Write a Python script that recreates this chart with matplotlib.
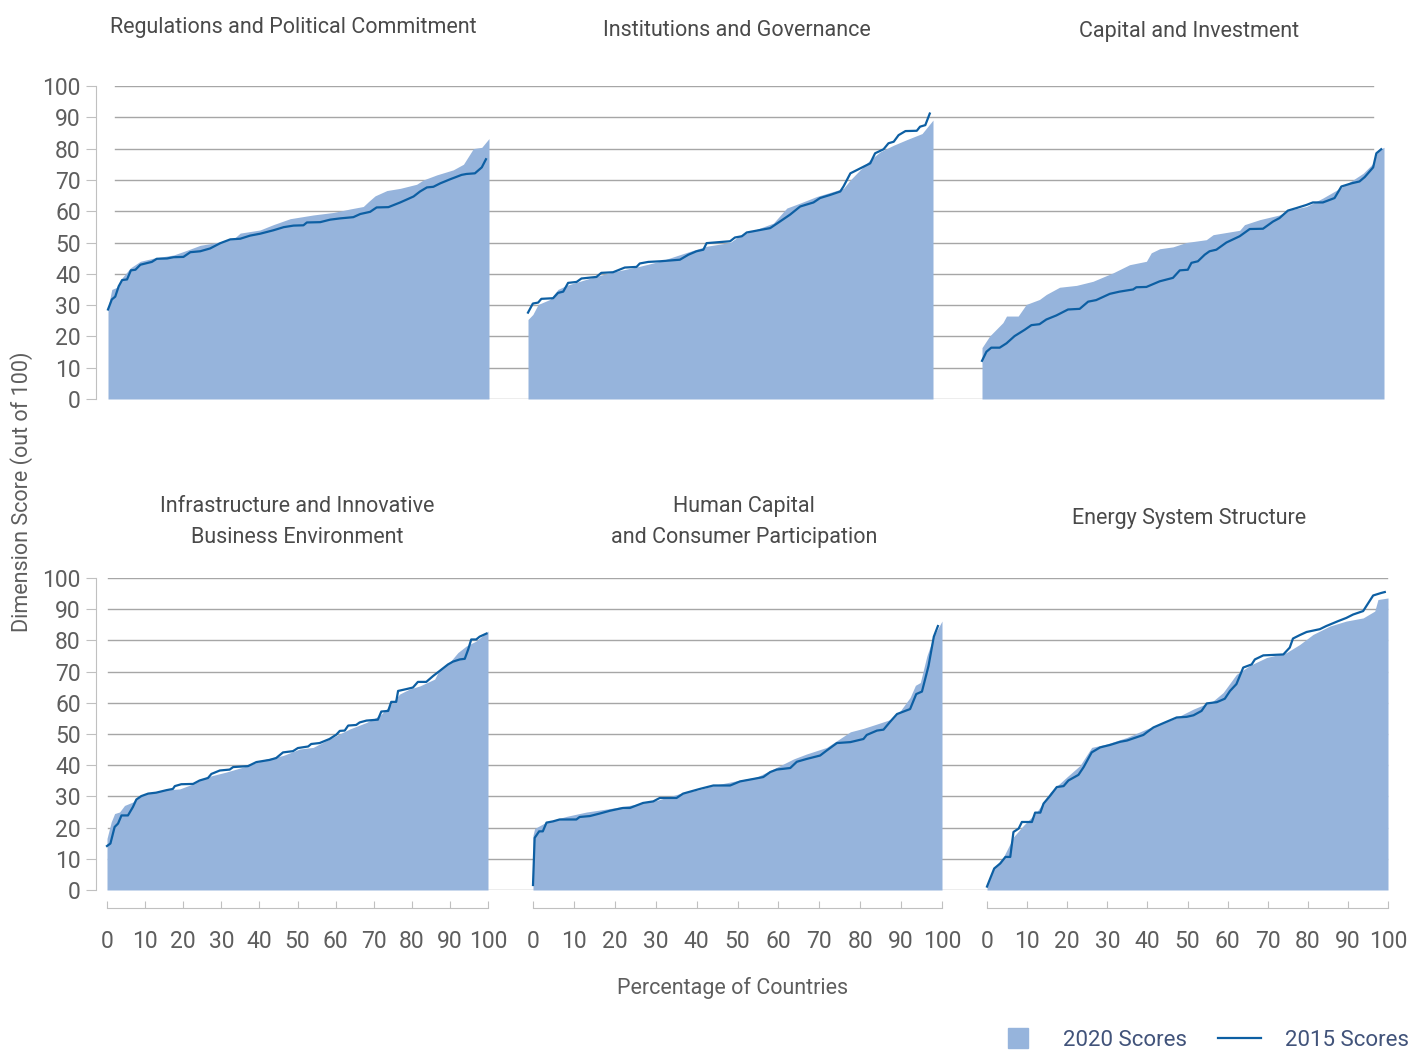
import matplotlib
matplotlib.use('Agg')
import matplotlib.pyplot as plt
from matplotlib.lines import Line2D

plt.rcParams['font.family'] = ['Roboto', 'DejaVu Sans']
plt.rcParams['font.weight'] = 'normal'

titles = ['Regulations and Political Commitment', 'Institutions and Governance',
          'Capital and Investment', 'Infrastructure and Innovative\nBusiness Environment',
          'Human Capital\nand Consumer Participation', 'Energy System Structure']

# Regulations and Political Commitment
reg_2020_pct = [0, 1.0, 2.4, 3.7, 5.9, 8.5, 12.0, 17.2, 20.7, 24.2, 28.6, 33.0, 34.7, 39.9, 43.4,
                47.8, 53.9, 59.2, 63.5, 67.0, 68.4, 70.1, 73.2, 76.7, 81.0, 82.8, 86.3, 90.6,
                93.3, 95.9, 98.1, 100]
reg_2020 = [29.2, 35, 35.7, 38.7, 41.9, 44, 45, 46, 47.5, 49.1, 50, 51.2, 53, 54, 55.7, 57.6,
            58.8, 59.6, 60.7, 61.5, 63.1, 64.9, 66.6, 67.3, 68.6, 70, 71.6, 73.2, 75, 80, 80.4,
            83.2]
reg_2015_pct = [0, 1.0, 1.9, 2.8, 3.7, 5.0, 6.0, 7.2, 8.5, 11.5, 12.8, 15.5, 17.2, 19.8, 21.6,
                24.2, 26.8, 29.5, 32.1, 34.7, 37.3, 39.9, 43.4, 46.1, 48.7, 51.3, 52.2, 55.7,
                58.3, 60.9, 64.4, 66.2, 68.8, 70.5, 73.6, 76.7, 80.2, 81.9, 83.7, 85.4, 87.2,
                89.8, 92.8, 94.1, 96.3, 98.1, 99.2]
reg_2015 = [28.6, 31.8, 32.7, 36, 38, 38.2, 41.1, 41.3, 42.9, 43.8, 44.8, 44.9, 45.3, 45.4,
            46.9, 47.2, 48.1, 49.8, 51, 51.2, 52.2, 52.8, 53.9, 54.9, 55.4, 55.5, 56.4, 56.5,
            57.3, 57.7, 58.1, 59.1, 59.8, 61.2, 61.3, 62.8, 64.7, 66.3, 67.6, 67.8, 68.9, 70.2,
            71.6, 71.9, 72.1, 74, 76.6]

# Institutions and Governance
ins_2020_pct = [0, 1.2, 2.5, 5.4, 7.4, 9.5, 12.8, 16.9, 21.8, 27.6, 32.6, 37.5, 40.8, 44.1,
                49.9, 52.3, 57.3, 60.6, 63.9, 67.2, 71.3, 75.4, 77.9, 79.6, 82.0, 84.5, 87.0,
                90.3, 93.6, 97.3, 100]
ins_2020 = [25.4, 27, 30.2, 31.8, 35, 36.3, 37.6, 39.2, 40.8, 42.4, 44, 46.1, 47.5, 48.8, 50,
            52.2, 54.6, 56.2, 61, 62.6, 64.7, 66.3, 67.3, 70, 73.2, 76.4, 79, 81.1, 82.9, 84.8,
            89.1]
ins_2015_pct = [0, 1.2, 2.5, 3.3, 6.2, 7.4, 8.7, 9.9, 12.0, 13.2, 16.9, 18.1, 21.0, 23.9, 26.8,
                27.6, 29.7, 32.6, 37.5, 39.6, 41.6, 43.3, 44.1, 49.9, 51.1, 52.8, 54.0, 59.8,
                62.2, 64.7, 67.2, 70.5, 72.1, 74.6, 77.1, 77.9, 79.6, 81.6, 84.5, 85.7, 87.8,
                89.0, 90.3, 91.5, 93.2, 96.0, 96.8, 98.1, 99.2]
ins_2015 = [27.6, 30.5, 30.8, 32, 32.2, 33.9, 34.3, 37.1, 37.4, 38.5, 39, 40.3, 40.5, 42, 42.2,
            43.3, 43.8, 44, 44.5, 46.1, 47.2, 47.7, 49.8, 50.4, 51.6, 52, 53.2, 54.6, 56.7,
            58.9, 61.5, 62.8, 64.2, 65.2, 66.3, 67.9, 72.1, 73.4, 75.3, 78.5, 79.8, 81.7, 82.2,
            84.3, 85.6, 85.7, 87, 87.5, 91.2]

# Capital and Investment
cap_2020_pct = [0, 1.9, 5.2, 6.1, 9.0, 11.0, 14.3, 16.0, 19.3, 23.5, 27.6, 32.6, 36.7, 40.9,
                42.1, 44.2, 47.5, 50.8, 55.8, 57.5, 64.1, 65.3, 69.1, 74.0, 76.5, 80.7, 84.8,
                89.0, 92.3, 94.8, 97.3, 98.5, 100]
cap_2020 = [16.4, 20.1, 24.4, 26.5, 26.5, 30.2, 31.8, 33.4, 35.7, 36.3, 37.6, 40.3, 42.9, 44,
            46.7, 48, 48.6, 50, 50.9, 52.5, 53.9, 55.7, 57.3, 58.8, 60.4, 61.5, 64.2, 67.3, 70,
            72.1, 75.3, 79.5, 80.4]
cap_2015_pct = [0, 1.1, 2.3, 4.4, 6.1, 8.1, 10.6, 12.3, 14.3, 16.0, 18.5, 21.4, 24.3, 26.4,
                28.4, 31.8, 34.2, 37.6, 38.4, 40.9, 44.2, 47.5, 49.2, 51.2, 52.1, 53.7, 55.4,
                56.6, 58.3, 60.8, 64.1, 66.6, 69.9, 72.4, 74.0, 76.1, 78.2, 80.7, 82.3, 84.8,
                87.7, 89.4, 91.9, 93.9, 95.2, 97.3, 98.1, 99.3]
cap_2015 = [12.2, 15.1, 16.4, 16.4, 17.8, 20.1, 22.1, 23.6, 23.9, 25.4, 26.7, 28.6, 28.8, 31.1,
            31.6, 33.6, 34.3, 35, 35.7, 35.8, 37.6, 38.7, 41.1, 41.3, 43.5, 44, 46.1, 47.2,
            47.7, 50, 52, 54.3, 54.4, 56.7, 57.8, 60.2, 61, 62, 62.8, 62.8, 64.2, 67.9, 68.9,
            69.5, 70.9, 74, 78.5, 79.8]

# Infrastructure and Innovative Business Environment
inf_2020_pct = [0, 1.1, 2.0, 3.3, 4.6, 6.8, 8.6, 10.3, 12.9, 15.6, 19.1, 22.6, 26.1, 31.3,
                36.6, 41.8, 46.2, 50.6, 54.1, 57.6, 60.2, 63.7, 68.1, 71.6, 74.2, 76.8, 79.4,
                82.1, 86.0, 87.3, 89.9, 92.1, 94.3, 96.9, 100]
inf_2020 = [16.5, 21.8, 24.5, 25, 27.1, 28.2, 30.1, 30.9, 31.4, 32.1, 32.4, 34, 36.2, 37.8,
            39.7, 42, 43.1, 45.2, 45.7, 47.9, 49.5, 51.6, 53.7, 55.9, 59, 62.8, 64.4, 65.4,
            67.6, 70.7, 72.9, 76.1, 78.2, 79.8, 83]
inf_2015_pct = [0, 0.9, 2.0, 2.9, 3.8, 5.5, 6.8, 7.7, 9.0, 10.8, 12.9, 15.6, 17.3, 17.8, 19.5,
                22.6, 24.3, 26.5, 27.4, 29.6, 32.2, 33.1, 37.0, 39.2, 42.7, 44.4, 46.2, 48.8,
                50.1, 52.8, 53.6, 55.8, 58.4, 60.2, 61.1, 62.4, 63.3, 65.4, 66.3, 68.1, 71.1,
                72.0, 73.8, 74.6, 75.9, 76.4, 78.6, 80.3, 81.6, 83.8, 85.6, 87.3, 89.5, 90.8,
                92.6, 93.9, 94.8, 95.6, 96.9, 97.8, 99.6]
inf_2015 = [14.1, 14.9, 20.2, 21.3, 23.9, 23.9, 26.6, 29, 30.1, 30.9, 31.2, 32, 32.4, 33.3,
            33.9, 34, 35.1, 35.9, 37.2, 38.3, 38.6, 39.4, 39.7, 41, 41.7, 42.3, 44.1, 44.5,
            45.5, 46, 46.8, 47.1, 48.4, 49.8, 51, 51.1, 52.7, 52.9, 53.7, 54.3, 54.6, 57.2,
            57.4, 60.3, 60.3, 63.8, 64.4, 64.9, 66.7, 66.7, 68.6, 70.2, 72.3, 73.2, 73.9, 74.1,
            77.1, 80.3, 80.3, 81.2, 82.2]

# Human Capital and Consumer Participation
hum_2020_pct = [0, 0.4, 3.3, 8.2, 13.1, 18.8, 24.5, 30.2, 35.9, 40.8, 44.1, 49.0, 54.7, 58.8,
                63.7, 66.9, 71.8, 77.6, 80.8, 84.1, 87.3, 89.8, 92.2, 93.5, 94.7, 96.3, 98.0, 100]
hum_2020 = [17.5, 19.7, 21.8, 23.6, 25, 26.1, 27.3, 28.7, 30.9, 32.2, 33.5, 34.8, 36.2, 38.8,
            42, 43.6, 45.7, 50.7, 51.8, 53.2, 54.6, 57.4, 61.7, 65.6, 66.5, 75, 81.4, 86.2]
hum_2015_pct = [0, 0.4, 1.5, 2.4, 3.3, 4.9, 6.5, 10.6, 11.4, 13.9, 16.3, 18.8, 22.0, 23.7, 26.9,
                29.4, 31.0, 35.1, 36.7, 40.8, 44.1, 48.2, 50.6, 53.9, 56.3, 58.0, 59.6, 62.9,
                64.5, 66.9, 70.2, 71.8, 74.3, 77.6, 80.8, 81.6, 84.1, 85.7, 87.3, 89.0, 92.2,
                93.7, 95.1, 96.7, 98.0, 99.0]
hum_2015 = [1.6, 16.7, 18.8, 18.8, 21.6, 22, 22.6, 22.6, 23.4, 23.7, 24.5, 25.4, 26.3, 26.3,
            27.9, 28.4, 29.5, 29.5, 30.9, 32.4, 33.5, 33.5, 34.8, 35.6, 36.2, 37.8, 38.6, 39.1,
            41.1, 42, 43.1, 44.7, 47.1, 47.4, 48.4, 49.7, 51.1, 51.4, 53.9, 56.4, 58, 62.8,
            63.6, 71.8, 81.2, 84.6]

# Energy System Structure
ene_2020_pct = [0, 1.7, 4.1, 6.6, 9.1, 12.4, 15.8, 19.9, 23.2, 26.1, 29.9, 34.9, 39.8, 46.5,
                51.5, 56.4, 58.9, 62.2, 65.6, 69.7, 74.7, 78.0, 81.3, 85.5, 89.6, 93.8, 96.7,
                97.5, 100]
ene_2020 = [1.1, 6.9, 10.6, 17, 20.7, 25, 31.4, 36.2, 39.9, 45.7, 46.8, 48.9, 51.6, 54.8, 58,
            60.6, 63.3, 69.1, 72, 74.5, 76.1, 78.7, 81.9, 84.6, 86.2, 87.2, 89.4, 93.1, 93.6]
ene_2015_pct = [0, 0.8, 1.8, 3.3, 4.6, 5.8, 6.6, 7.9, 8.7, 11.2, 12.0, 13.3, 14.1, 15.8, 17.4,
                19.1, 20.3, 22.8, 24.1, 26.1, 28.2, 30.7, 33.2, 34.9, 39.0, 39.8, 41.5, 44.0,
                47.3, 49.8, 51.5, 53.5, 54.8, 57.3, 59.3, 60.6, 62.2, 63.9, 66.0, 66.8, 68.9,
                73.9, 75.5, 76.3, 78.0, 79.7, 83.0, 84.6, 87.6, 89.6, 91.3, 93.8, 96.3, 98.3, 99.2]
ene_2015 = [1.1, 3.7, 6.9, 8.5, 10.6, 10.6, 18.6, 19.7, 21.8, 21.8, 24.8, 24.8, 27.7, 30.3, 33,
            33.3, 35.1, 36.9, 39.4, 44.1, 45.7, 46.5, 47.5, 47.9, 49.7, 50.5, 52.1, 53.5, 55.3,
            55.5, 56, 57.4, 59.8, 60.2, 61.3, 63.8, 66, 71.3, 72.3, 73.9, 75.2, 75.5, 77.7,
            80.6, 81.7, 82.7, 83.6, 84.6, 86.2, 87.2, 88.3, 89.4, 94.4, 95.2, 95.5]

x_ticks = [0, 10, 20, 30, 40, 50, 60, 70, 80, 90, 100]
y_ticks = [0, 10, 20, 30, 40, 50, 60, 70, 80, 90, 100]

panels = [
    (reg_2020_pct, reg_2020, reg_2015_pct, reg_2015),
    (ins_2020_pct, ins_2020, ins_2015_pct, ins_2015),
    (cap_2020_pct, cap_2020, cap_2015_pct, cap_2015),
    (inf_2020_pct, inf_2020, inf_2015_pct, inf_2015),
    (hum_2020_pct, hum_2020, hum_2015_pct, hum_2015),
    (ene_2020_pct, ene_2020, ene_2015_pct, ene_2015),
]

AREA = '#96b4dc'
LINE = '#0d5fa3'
GRID = '#a6a6a6'
SPINE = '#c0c0c0'
TEXT = '#5e5e5e'

W, H = 1411, 1050
fig = plt.figure(figsize=(W / 100, H / 100), dpi=100)


def fx(px):
    return px / W


def fy(py):
    return 1 - py / H


# layout in pixels: (y of 0, y of 100, grid start, grid end), panel spans
rows = [(399, 86, 115, 1373), (890, 578, 108, 1387)]
spans = [[(108, 489), (528, 933), (982, 1384)],
         [(107, 488), (533, 942), (987, 1388)]]
title_pos = [(293, 27), (737, 30), (1189, 31), (297, 522), (744, 522), (1189, 518)]

for r, (y0, y100, g0, g1) in enumerate(rows):
    bg = fig.add_axes([fx(96), fy(y0), fx(1390) - fx(96), (y0 - y100) / H])
    bg.set_xlim(0, 1)
    bg.set_ylim(0, 100)
    bg.set_yticks(y_ticks)
    bg.set_xticks([])
    for s in ['top', 'right', 'bottom']:
        bg.spines[s].set_visible(False)
    bg.spines['left'].set_color(SPINE)
    bg.tick_params(axis='y', length=7, color=SPINE, labelsize=16.5, labelcolor=TEXT, pad=4)
    for v in y_ticks:
        bg.axhline(v, xmin=(g0 - 96) / 1294, xmax=(g1 - 96) / 1294, color=GRID, lw=1, zorder=0)
    bg.patch.set_visible(False)

    for c, (l, rr) in enumerate(spans[r]):
        i = r * 3 + c
        p20, s20, p15, s15 = panels[i]
        ax = fig.add_axes([fx(l), fy(y0), fx(rr) - fx(l), (y0 - y100) / H])
        ax.set_xlim(0, 100)
        ax.set_ylim(0, 100)
        ax.patch.set_visible(False)
        ax.fill_between(p20, s20, 0, color=AREA, lw=0)
        ax.plot(p15, s15, color=LINE, lw=1.6, clip_on=False)
        for s in ['top', 'right', 'left']:
            ax.spines[s].set_visible(False)
        ax.set_yticks([])
        if r == 1:
            ax.spines['bottom'].set_position(('outward', 13))
            ax.spines['bottom'].set_color(SPINE)
            ax.set_xticks(x_ticks)
            ax.tick_params(axis='x', direction='in', length=5, color=SPINE,
                           labelsize=16.5, labelcolor=TEXT, pad=16)
        else:
            ax.spines['bottom'].set_visible(False)
            ax.set_xticks([])
        tx, ty = title_pos[i]
        fig.text(fx(tx), fy(ty), titles[i], ha='center', va='center', fontsize=15.5,
                 color='#4a4a4a', linespacing=1.6)

fig.text(fx(22), fy(492), 'Dimension Score (out of 100)', rotation=90, ha='center',
         va='center', fontsize=15.5, color=TEXT)
fig.text(fx(733), fy(988), 'Percentage of Countries', ha='center', va='center',
         fontsize=15.5, color=TEXT)

handles = [Line2D([], [], marker='s', ms=15, ls='none', color=AREA),
           Line2D([], [], color=LINE, lw=1.6)]
fig.legend(handles, ['2020 Scores', '2015 Scores'], ncol=2, frameon=False,
           loc='center right', bbox_to_anchor=(fx(1409), fy(1040)), fontsize=16,
           handlelength=1.9, handletextpad=1.1, columnspacing=1.4, labelcolor='#41537a',
           borderaxespad=0, borderpad=0)

fig.savefig('out.png', dpi=100)
